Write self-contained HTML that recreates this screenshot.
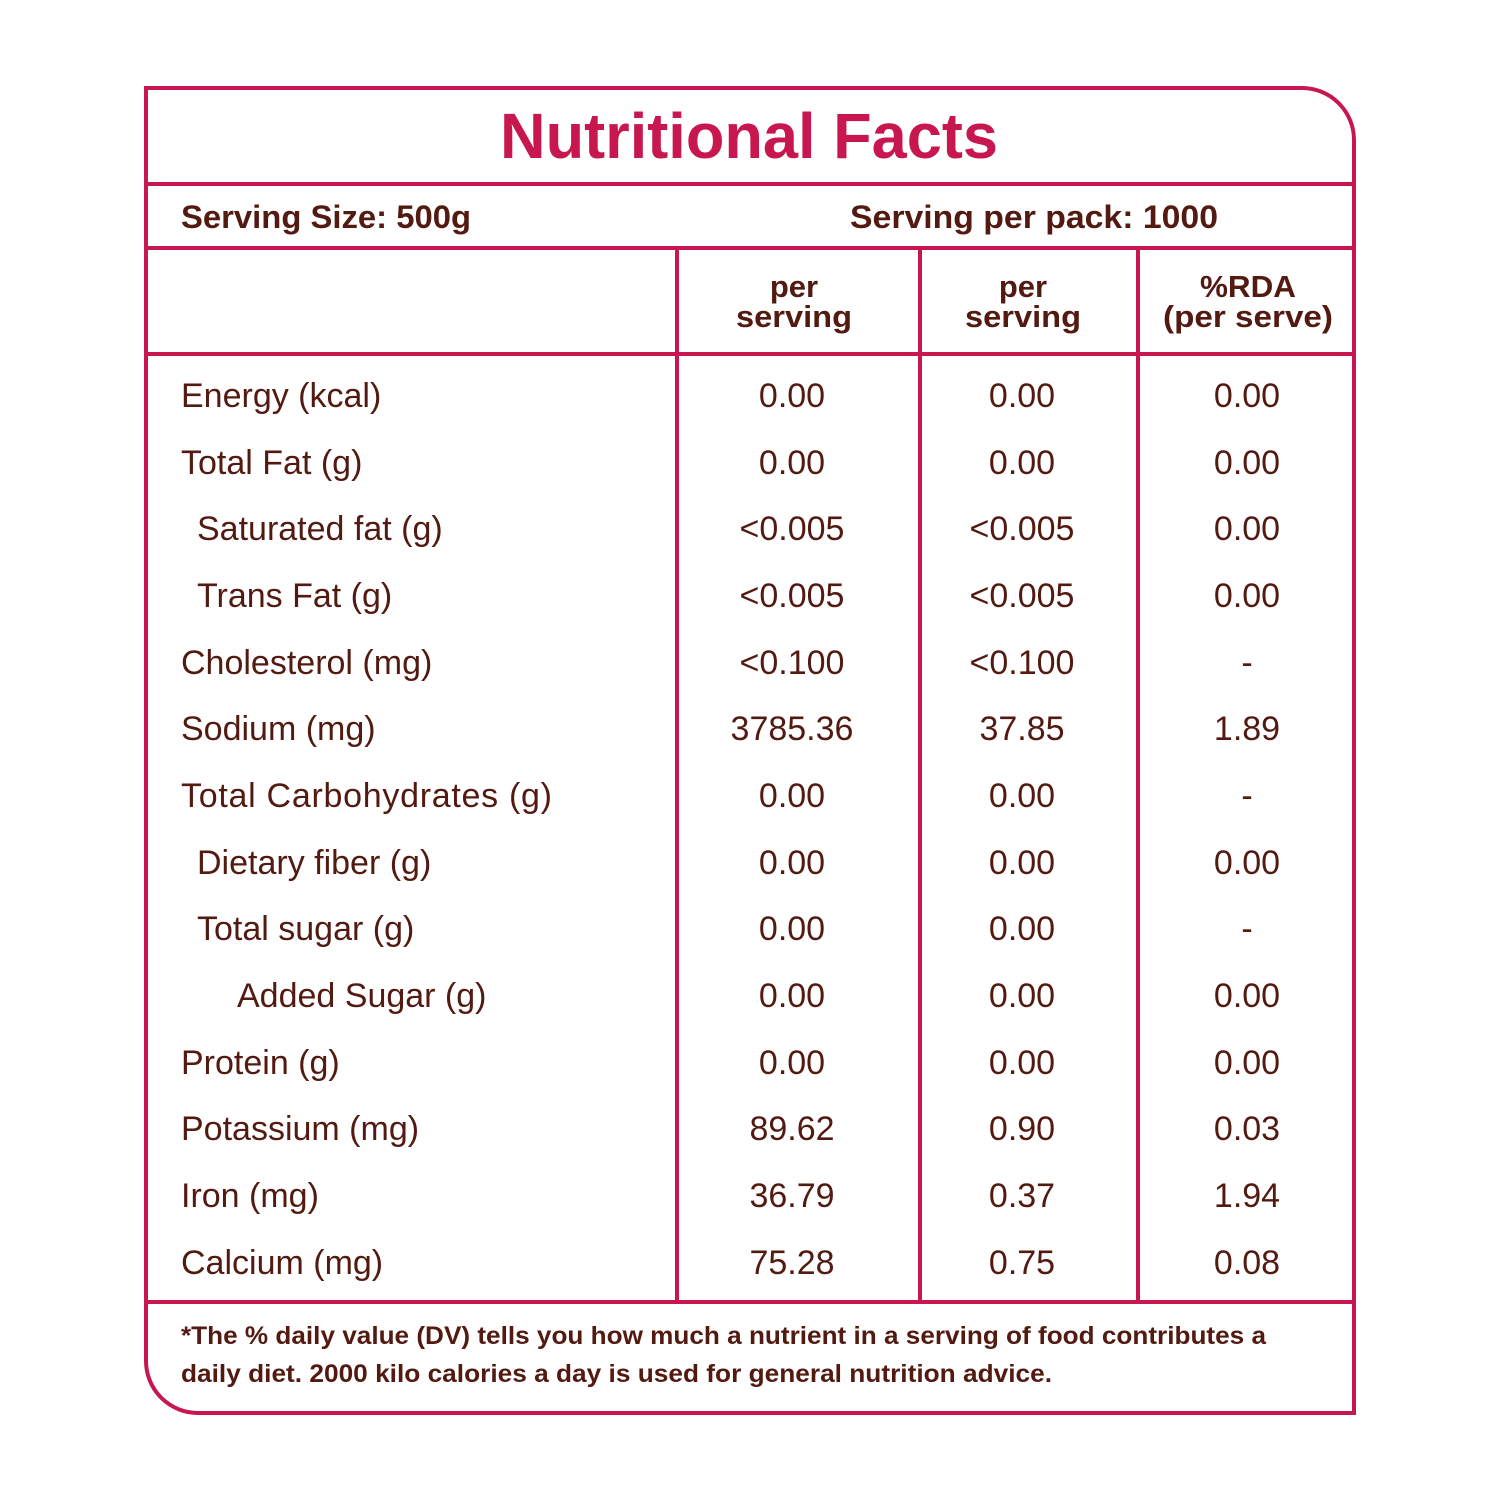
<!DOCTYPE html>
<html><head><meta charset="utf-8"><style>html,body{margin:0;padding:0;background:#fff}svg{display:block}</style></head>
<body>
<svg width="1500" height="1500" viewBox="0 0 1500 1500" xmlns="http://www.w3.org/2000/svg" font-family="Liberation Sans, sans-serif">
<g fill="none" stroke="#c8174f" stroke-width="4">
<path d="M146 88 H1302 A52 52 0 0 1 1354 140 V1413 H198 A52 52 0 0 1 146 1361 Z"/>
<line x1="146" y1="184" x2="1354" y2="184"/>
<line x1="146" y1="248" x2="1354" y2="248"/>
<line x1="146" y1="354" x2="1354" y2="354"/>
<line x1="146" y1="1302" x2="1354" y2="1302"/>
<line x1="677" y1="248" x2="677" y2="1302"/>
<line x1="920" y1="248" x2="920" y2="1302"/>
<line x1="1138" y1="248" x2="1138" y2="1302"/>
</g>
<text x="749" y="158" text-anchor="middle" font-size="64" font-weight="bold" fill="#c8174f" textLength="498" lengthAdjust="spacingAndGlyphs">Nutritional Facts</text>
<g fill="#521a10" font-weight="bold" font-size="32">
<text x="181" y="228" textLength="290" lengthAdjust="spacingAndGlyphs">Serving Size: 500g</text>
<text x="850" y="228" textLength="368" lengthAdjust="spacingAndGlyphs">Serving per pack: 1000</text>
<g text-anchor="middle" font-size="31">
<text x="794" y="297">per</text><text x="794" y="327" textLength="116" lengthAdjust="spacingAndGlyphs">serving</text>
<text x="1023" y="297">per</text><text x="1023" y="327" textLength="116" lengthAdjust="spacingAndGlyphs">serving</text>
<text x="1248" y="297" textLength="96" lengthAdjust="spacingAndGlyphs">%RDA</text><text x="1248" y="327" textLength="170" lengthAdjust="spacingAndGlyphs">(per serve)</text>
</g>
<g font-size="25">
<text x="181" y="1344" textLength="1085" lengthAdjust="spacingAndGlyphs">*The % daily value (DV) tells you how much a nutrient in a serving of food contributes a</text>
<text x="181" y="1382" textLength="871" lengthAdjust="spacingAndGlyphs">daily diet. 2000 kilo calories a day is used for general nutrition advice.</text>
</g>
</g>
<g fill="#521a10" font-size="34">
<g>
<text x="181" y="407">Energy (kcal)</text>
<text x="181" y="474">Total Fat (g)</text>
<text x="197" y="540">Saturated fat (g)</text>
<text x="197" y="607">Trans Fat (g)</text>
<text x="181" y="674">Cholesterol (mg)</text>
<text x="181" y="740">Sodium (mg)</text>
<text x="181" y="807" textLength="371" lengthAdjust="spacing">Total Carbohydrates (g)</text>
<text x="197" y="874">Dietary fiber (g)</text>
<text x="197" y="940">Total sugar (g)</text>
<text x="237" y="1007">Added Sugar (g)</text>
<text x="181" y="1074">Protein (g)</text>
<text x="181" y="1140">Potassium (mg)</text>
<text x="181" y="1207">Iron (mg)</text>
<text x="181" y="1274">Calcium (mg)</text>
</g>
<g text-anchor="middle">
<text x="792" y="407">0.00</text><text x="1022" y="407">0.00</text><text x="1247" y="407">0.00</text>
<text x="792" y="474">0.00</text><text x="1022" y="474">0.00</text><text x="1247" y="474">0.00</text>
<text x="792" y="540">&lt;0.005</text><text x="1022" y="540">&lt;0.005</text><text x="1247" y="540">0.00</text>
<text x="792" y="607">&lt;0.005</text><text x="1022" y="607">&lt;0.005</text><text x="1247" y="607">0.00</text>
<text x="792" y="674">&lt;0.100</text><text x="1022" y="674">&lt;0.100</text><text x="1247" y="674">-</text>
<text x="792" y="740">3785.36</text><text x="1022" y="740">37.85</text><text x="1247" y="740">1.89</text>
<text x="792" y="807">0.00</text><text x="1022" y="807">0.00</text><text x="1247" y="807">-</text>
<text x="792" y="874">0.00</text><text x="1022" y="874">0.00</text><text x="1247" y="874">0.00</text>
<text x="792" y="940">0.00</text><text x="1022" y="940">0.00</text><text x="1247" y="940">-</text>
<text x="792" y="1007">0.00</text><text x="1022" y="1007">0.00</text><text x="1247" y="1007">0.00</text>
<text x="792" y="1074">0.00</text><text x="1022" y="1074">0.00</text><text x="1247" y="1074">0.00</text>
<text x="792" y="1140">89.62</text><text x="1022" y="1140">0.90</text><text x="1247" y="1140">0.03</text>
<text x="792" y="1207">36.79</text><text x="1022" y="1207">0.37</text><text x="1247" y="1207">1.94</text>
<text x="792" y="1274">75.28</text><text x="1022" y="1274">0.75</text><text x="1247" y="1274">0.08</text>
</g>
</g>
</svg>
</body></html>
